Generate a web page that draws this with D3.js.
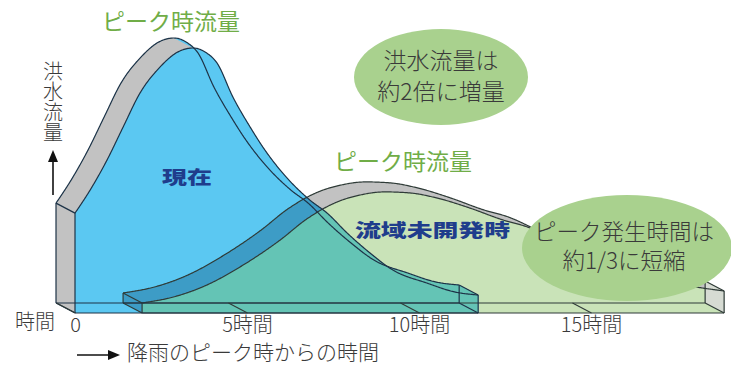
<!DOCTYPE html>
<html>
<head>
<meta charset="utf-8">
<script src="https://cdn.jsdelivr.net/npm/d3@7"></script>
<style>
  body { margin: 0; background: #fff; }
  svg { display: block; }
  text { font-family: "Noto Sans CJK JP", "Noto Sans", sans-serif; }
</style>
</head>
<body>
<svg id="chart" width="731" height="365"></svg>
<script>
// Flood hydrograph: hours after the rainfall peak vs. relative flood discharge
const nowHours  = [0, 0.44, 0.93, 1.40, 1.89, 2.47, 2.99, 3.43, 3.78, 4.13, 4.59, 5.09, 5.52, 5.96, 6.83, 7.33, 7.91, 8.58, 9.24, 10.23, 11.05, 11.72];
const nowFlow   = [37.7, 46.4, 57.7, 70.2, 83.0, 92.8, 98.5, 100, 98.5, 94.3, 81.5, 70.2, 61.5, 54.0, 42.6, 37.7, 30.2, 22.6, 16.2, 11.3, 7.9, 6.8];
const pastHours = [1.95, 2.85, 3.84, 4.80, 5.96, 6.74, 7.62, 8.28, 9.01, 9.74, 10.52, 11.48, 12.44, 13.14, 14.10, 15.26, 16.42, 17.59, 18.87];
const pastFlow  = [3.8, 6.0, 10.6, 17.4, 27.5, 35.5, 41.9, 44.5, 45.7, 45.3, 43.4, 39.6, 35.1, 32.5, 26.8, 20.0, 14.7, 10.9, 8.3];
const tickHours  = [0, 5, 10, 15];
const tickLabels = ["0", "5時間", "10時間", "15時間"];
const seriesNames = ["現在", "流域未開発時"];
const peakLabel = "ピーク時流量";
const yTitle = "洪水流量";
const xTitle = "降雨のピーク時からの時間";
const noteFlow = ["洪水流量は", "約2倍に増量"];
const noteTime = ["ピーク発生時間は", "約1/3に短縮"];

const svg = d3.select("#chart");
const x = d3.scaleLinear().domain([0, 15]).range([75, 591]);
const y = d3.scaleLinear().domain([0, 100]).range([313, 48]);
const depth = { x: -19, y: -10 };          // extrusion direction of the 3D slabs
const shift = p => [p[0] + depth.x, p[1] + depth.y];
const curve = d3.line().x(d => x(d[0])).y(d => y(d[1])).curve(d3.curveMonotoneX);
const poly = pts => d3.line()(pts) + "Z";

// Sample the smoothed curve so the slab faces can be built from it
function sample(pts) {
  const p = svg.append("path").attr("d", curve(pts));
  const node = p.node(), L = node.getTotalLength(), n = Math.ceil(L);
  const out = [];
  for (let i = 0; i <= n; i++) {
    const q = node.getPointAtLength(L * i / n);
    out.push([q.x, q.y]);
  }
  p.remove();
  return out;
}

function build(hours, flow, risingOnly) {
  const F = sample(d3.zip(hours, flow));
  const base = y(0);
  const x0 = F[0][0], x1 = F[F.length - 1][0];
  const B = F.map(shift);
  const face = [...F, [x1, base], [x0, base]];
  const back = face.map(shift);
  const left = [F[0], shift(F[0]), shift([x0, base]), [x0, base]];
  const right = [F[F.length - 1], shift(F[F.length - 1]), shift([x1, base]), [x1, base]];
  const side = [...B, ...F.slice().reverse()];
  // runs of the top surface that face the viewer
  const runs = [];
  let cur = null;
  for (let i = 0; i < F.length - 1; i++) {
    const ex = F[i + 1][0] - F[i][0], ey = F[i + 1][1] - F[i][1];
    let vis = ex * depth.y - ey * depth.x < 0;
    if (risingOnly && ey >= 0) vis = false;
    if (vis) { if (!cur) { cur = [i, i + 1]; runs.push(cur); } cur[1] = i + 1; }
    else cur = null;
  }
  const tops = runs.map(([a, b]) => [...B.slice(a, b + 1), ...F.slice(a, b + 1).reverse()]);
  return { F, B, face, back, left, right, side, tops, x0, x1, base };
}

const now = build(nowHours, nowFlow, true);
const past = build(pastHours, pastFlow, false);

function silhouette(g, geo, fill) {
  [geo.face, geo.back, geo.side, geo.left, geo.right].forEach(p =>
    g.append("path").attr("d", poly(p)).attr("fill", fill));
}
function topFaces(g, geo, fill) {
  geo.tops.forEach(p => g.append("path").attr("d", poly(p)).attr("fill", fill));
  g.append("path").attr("d", poly(geo.left)).attr("fill", fill);
}

// clip for the overlap of the two slabs
const clip = svg.append("defs").append("clipPath").attr("id", "nowClip");
[now.face, now.back, now.side, now.left, now.right].forEach(p =>
  clip.append("path").attr("d", poly(p)));

// slab before basin development
const gPast = svg.append("g");
silhouette(gPast, past, "#c9e3b8");
topFaces(gPast, past, "#c2c2c2");
gPast.append("path").attr("d", poly(past.right)).attr("fill", "#d6dbd3");

// present slab
const gNow = svg.append("g");
silhouette(gNow, now, "#5bc8f2");
topFaces(gNow, now, "#c2c2c2");

// overlap of both slabs
const gOver = svg.append("g").attr("clip-path", "url(#nowClip)");
silhouette(gOver, past, "#64c4b5");
topFaces(gOver, past, "#3d9cc6");

// outlines
function edges(geo, stroke) {
  const g = svg.append("g").attr("fill", "none").attr("stroke", stroke)
    .attr("stroke-width", 1.2).attr("stroke-linejoin", "round");
  g.append("path").attr("d", d3.line()(geo.F));
  g.append("path").attr("d", d3.line()(geo.B));
  const F0 = geo.F[0], F1 = geo.F[geo.F.length - 1];
  const b0 = [geo.x0, geo.base], b1 = [geo.x1, geo.base];
  [[F0, b0], [shift(F0), shift(b0)], [F1, b1], [shift(F1), shift(b1)],
   [b0, b1], [shift(b0), shift(b1)],
   [F0, shift(F0)], [b0, shift(b0)], [F1, shift(F1)], [b1, shift(b1)]]
    .forEach(s => g.append("path").attr("d", d3.line()(s)));
}
edges(past, "#2f3b38");
edges(now, "#1e3347");

// time axis with ticks running across the slab floor
const axis = svg.append("g").attr("transform", `translate(0,${y(0)})`)
  .call(d3.axisBottom(x).tickValues(tickHours).tickFormat((d, i) => tickLabels[i]).tickSize(0));
axis.select(".domain").remove();
axis.selectAll(".tick line")
  .attr("x2", depth.x).attr("y2", depth.y)
  .attr("stroke", "#2f3b38").attr("stroke-width", 1.1);
axis.selectAll(".tick text")
  .attr("y", 19).attr("dy", 0)
  .attr("font-family", "'Noto Sans CJK JP', sans-serif")
  .attr("font-size", 20).attr("font-weight", 300).attr("fill", "#3a3a3a");

// peak labels
svg.append("text").attr("x", 171).attr("y", 30).attr("text-anchor", "middle")
  .attr("font-size", 23).attr("fill", "#70ad47").text(peakLabel);
svg.append("text").attr("x", 403).attr("y", 170).attr("text-anchor", "middle")
  .attr("font-size", 23).attr("fill", "#70ad47").text(peakLabel);

// series names
svg.append("text").attr("x", 162).attr("y", 184).attr("font-size", 18)
  .attr("font-weight", 900).attr("fill", "#1f3d8c")
  .attr("textLength", 50).attr("lengthAdjust", "spacingAndGlyphs").text(seriesNames[0]);
svg.append("text").attr("x", 355).attr("y", 237).attr("font-size", 18)
  .attr("font-weight", 900).attr("fill", "#1f3d8c")
  .attr("textLength", 155).attr("lengthAdjust", "spacingAndGlyphs").text(seriesNames[1]);

// callout ellipses
function note(cx, cy, rx, ry, lines, tx, ys, fs) {
  svg.append("ellipse").attr("cx", cx).attr("cy", cy).attr("rx", rx).attr("ry", ry)
    .attr("fill", "#a9d18e");
  lines.forEach((t, i) => svg.append("text").attr("x", tx).attr("y", ys[i])
    .attr("text-anchor", "middle").attr("font-size", fs).attr("font-weight", 300)
    .attr("fill", "#3a3a3a").text(t));
}
note(441, 77, 87, 48, noteFlow, 441, [69, 100], 23);
note(627, 248, 105, 53, noteTime, 624, [240, 269], 22.5);

// axis titles
svg.append("text").attr("x", 53).attr("y", 61)
  .style("writing-mode", "vertical-rl").style("letter-spacing", "0.6px")
  .attr("font-size", 20).attr("font-weight", 300)
  .attr("fill", "#3a3a3a").text(yTitle);
svg.append("line").attr("x1", 53).attr("y1", 195).attr("x2", 53).attr("y2", 158)
  .attr("stroke", "#111").attr("stroke-width", 1.6);
svg.append("path").attr("d", "M53,150L48,162L58,162Z").attr("fill", "#111");

svg.append("text").attr("x", 35).attr("y", 329).attr("text-anchor", "middle")
  .attr("font-size", 20).attr("font-weight", 300).attr("fill", "#3a3a3a").text("時間");

svg.append("line").attr("x1", 77).attr("y1", 355).attr("x2", 110).attr("y2", 355)
  .attr("stroke", "#111").attr("stroke-width", 1.6);
svg.append("path").attr("d", "M120,355L108,350L108,360Z").attr("fill", "#111");
svg.append("text").attr("x", 127).attr("y", 360).attr("font-size", 21)
  .attr("font-weight", 300).attr("fill", "#3a3a3a").text(xTitle);
</script>
</body>
</html>
